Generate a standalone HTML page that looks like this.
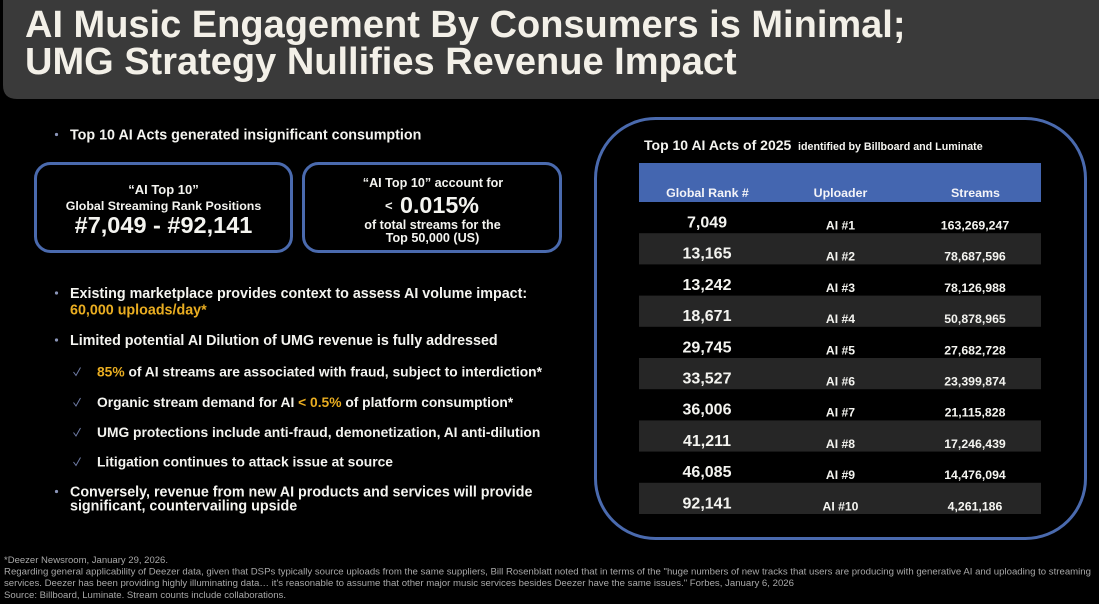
<!DOCTYPE html>
<html>
<head>
<meta charset="utf-8">
<style>
  html,body{margin:0;padding:0;background:#000;}
  body{width:1099px;height:604px;overflow:hidden;}
  svg{display:block;}
  text{font-family:"Liberation Sans", Arial, sans-serif;}
</style>
</head>
<body>
<svg width="1099" height="604" viewBox="0 0 1099 604" xmlns="http://www.w3.org/2000/svg">
  <rect x="0" y="0" width="1099" height="604" fill="#000"/>
  <!-- Title bar -->
  <path d="M3,0 H1099 V99 H17 Q3,99 3,85 Z" fill="#3a3a3a"/>
  <text x="25" y="37" font-size="38" font-weight="bold" fill="#f3f0e8">AI Music Engagement By Consumers is Minimal;</text>
  <text x="25" y="74" font-size="38" font-weight="bold" fill="#f3f0e8">UMG Strategy Nullifies Revenue Impact</text>

  <!-- Bullet 1 -->
  <circle cx="56.5" cy="134.5" r="1.6" fill="#8a94b8"/>
  <text x="70" y="139.5" font-size="14.3" font-weight="bold" fill="#f4f4f0">Top 10 AI Acts generated insignificant consumption</text>

  <!-- Box 1 -->
  <rect x="35.5" y="163.5" width="256" height="88" rx="15" ry="15" fill="none" stroke="#4a6aae" stroke-width="3"/>
  <text x="163.5" y="194" font-size="13" font-weight="bold" fill="#f4f4f0" text-anchor="middle">“AI Top 10”</text>
  <text x="163.5" y="210" font-size="12.4" font-weight="bold" fill="#f4f4f0" text-anchor="middle">Global Streaming Rank Positions</text>
  <text x="163.5" y="233" font-size="23.5" font-weight="bold" fill="#f4f4f0" text-anchor="middle">#7,049 - #92,141</text>

  <!-- Box 2 -->
  <rect x="303.5" y="163.5" width="257" height="88" rx="15" ry="15" fill="none" stroke="#4a6aae" stroke-width="3"/>
  <text x="433" y="187" font-size="12.6" font-weight="bold" fill="#f4f4f0" text-anchor="middle">“AI Top 10” account for</text>
  <text x="385" y="210" font-size="13" font-weight="bold" fill="#f4f4f0">&lt;</text>
  <text x="400" y="213" font-size="23.3" font-weight="bold" fill="#f4f4f0">0.015%</text>
  <text x="432.5" y="229" font-size="12.6" font-weight="bold" fill="#f4f4f0" text-anchor="middle">of total streams for the</text>
  <text x="432.5" y="242" font-size="12.6" font-weight="bold" fill="#f4f4f0" text-anchor="middle">Top 50,000 (US)</text>

  <!-- Bullet 2 -->
  <circle cx="56.5" cy="293" r="1.6" fill="#8a94b8"/>
  <text x="70" y="298" font-size="14.3" font-weight="bold" fill="#f4f4f0">Existing marketplace provides context to assess AI volume impact:</text>
  <text x="70" y="314.5" font-size="14.3" font-weight="bold" fill="#e9ad21">60,000 uploads/day*</text>

  <!-- Bullet 3 -->
  <circle cx="56.5" cy="340" r="1.6" fill="#8a94b8"/>
  <text x="70" y="345" font-size="14.3" font-weight="bold" fill="#f4f4f0">Limited potential AI Dilution of UMG revenue is fully addressed</text>

  <!-- Checks -->
  <g fill="none" stroke="#6f7ca6" stroke-width="1">
    <path d="M73.5,372 L76,375.5 L80.5,367.5"/>
    <path d="M73.5,402.5 L76,406 L80.5,398"/>
    <path d="M73.5,432.5 L76,436 L80.5,428"/>
    <path d="M73.5,462 L76,465.5 L80.5,457.5"/>
  </g>
  <text x="97" y="376.5" font-size="13.8" font-weight="bold" fill="#f4f4f0"><tspan fill="#e9ad21">85%</tspan> of AI streams are associated with fraud, subject to interdiction*</text>
  <text x="97" y="407" font-size="13.8" font-weight="bold" fill="#f4f4f0">Organic stream demand for AI <tspan fill="#e9ad21">&lt; 0.5%</tspan> of platform consumption*</text>
  <text x="97" y="437" font-size="13.8" font-weight="bold" fill="#f4f4f0">UMG protections include anti-fraud, demonetization, AI anti-dilution</text>
  <text x="97" y="466.5" font-size="13.8" font-weight="bold" fill="#f4f4f0">Litigation continues to attack issue at source</text>

  <!-- Bullet 4 -->
  <circle cx="56.5" cy="491.5" r="1.6" fill="#8a94b8"/>
  <text x="70" y="496.5" font-size="14.3" font-weight="bold" fill="#f4f4f0">Conversely, revenue from new AI products and services will provide</text>
  <text x="70" y="510.5" font-size="14.3" font-weight="bold" fill="#f4f4f0">significant, countervailing upside</text>

  <!-- Right box -->
  <rect x="595.5" y="118.5" width="490" height="420" rx="60" ry="60" fill="none" stroke="#4a6aae" stroke-width="3"/>
  <text x="644" y="150" font-size="14" font-weight="bold" fill="#f4f4f0">Top 10 AI Acts of 2025<tspan x="798" font-size="10.7">identified by Billboard and Luminate</tspan></text>

  <!-- Table header -->
  <rect x="639" y="163" width="402" height="39" fill="#4466b0"/>
  <g font-size="12.4" font-weight="bold" fill="#f4f4f8" text-anchor="middle">
    <text x="707.5" y="197">Global Rank #</text>
    <text x="840.5" y="197">Uploader</text>
    <text x="975.5" y="197">Streams</text>
  </g>

  <!-- Row backgrounds -->
  <g fill="#262626">
    <rect x="639" y="233.2" width="402" height="31.2"/>
    <rect x="639" y="295.6" width="402" height="31.2"/>
    <rect x="639" y="358.0" width="402" height="31.2"/>
    <rect x="639" y="420.4" width="402" height="31.2"/>
    <rect x="639" y="482.8" width="402" height="31.2"/>
  </g>

  <!-- Rank column -->
  <g font-size="16" font-weight="bold" fill="#f4f4f0" text-anchor="middle">
    <text x="707" y="227.5">7,049</text>
    <text x="707" y="258.7">13,165</text>
    <text x="707" y="289.9">13,242</text>
    <text x="707" y="321.1">18,671</text>
    <text x="707" y="352.3">29,745</text>
    <text x="707" y="383.5">33,527</text>
    <text x="707" y="414.7">36,006</text>
    <text x="707" y="445.9">41,211</text>
    <text x="707" y="477.1">46,085</text>
    <text x="707" y="508.3">92,141</text>
  </g>
  <!-- Uploader column -->
  <g font-size="12.2" font-weight="bold" fill="#f4f4f0" text-anchor="middle">
    <text x="840.5" y="229.5">AI #1</text>
    <text x="840.5" y="260.7">AI #2</text>
    <text x="840.5" y="291.9">AI #3</text>
    <text x="840.5" y="323.1">AI #4</text>
    <text x="840.5" y="354.3">AI #5</text>
    <text x="840.5" y="385.5">AI #6</text>
    <text x="840.5" y="416.7">AI #7</text>
    <text x="840.5" y="447.9">AI #8</text>
    <text x="840.5" y="479.1">AI #9</text>
    <text x="840.5" y="510.3">AI #10</text>
  </g>
  <!-- Streams column -->
  <g font-size="12.3" font-weight="bold" fill="#f4f4f0" text-anchor="middle">
    <text x="975" y="229.5">163,269,247</text>
    <text x="975" y="260.7">78,687,596</text>
    <text x="975" y="291.9">78,126,988</text>
    <text x="975" y="323.1">50,878,965</text>
    <text x="975" y="354.3">27,682,728</text>
    <text x="975" y="385.5">23,399,874</text>
    <text x="975" y="416.7">21,115,828</text>
    <text x="975" y="447.9">17,246,439</text>
    <text x="975" y="479.1">14,476,094</text>
    <text x="975" y="510.3">4,261,186</text>
  </g>

  <!-- Footnotes -->
  <g font-size="9" fill="#a8a8a8">
    <text x="4" y="563" textLength="164" lengthAdjust="spacingAndGlyphs">*Deezer Newsroom, January 29, 2026.</text>
    <text x="4" y="574.5" textLength="1087" lengthAdjust="spacingAndGlyphs">Regarding general applicability of Deezer data, given that DSPs typically source uploads from the same suppliers, Bill Rosenblatt noted that in terms of the &quot;huge numbers of new tracks that users are producing with generative AI and uploading to streaming</text>
    <text x="4" y="586" textLength="790" lengthAdjust="spacingAndGlyphs">services. Deezer has been providing highly illuminating data… it's reasonable to assume that other major music services besides Deezer have the same issues.&quot; Forbes, January 6, 2026</text>
    <text x="4" y="598" textLength="282" lengthAdjust="spacingAndGlyphs">Source: Billboard, Luminate. Stream counts include collaborations.</text>
  </g>
</svg>
</body>
</html>
